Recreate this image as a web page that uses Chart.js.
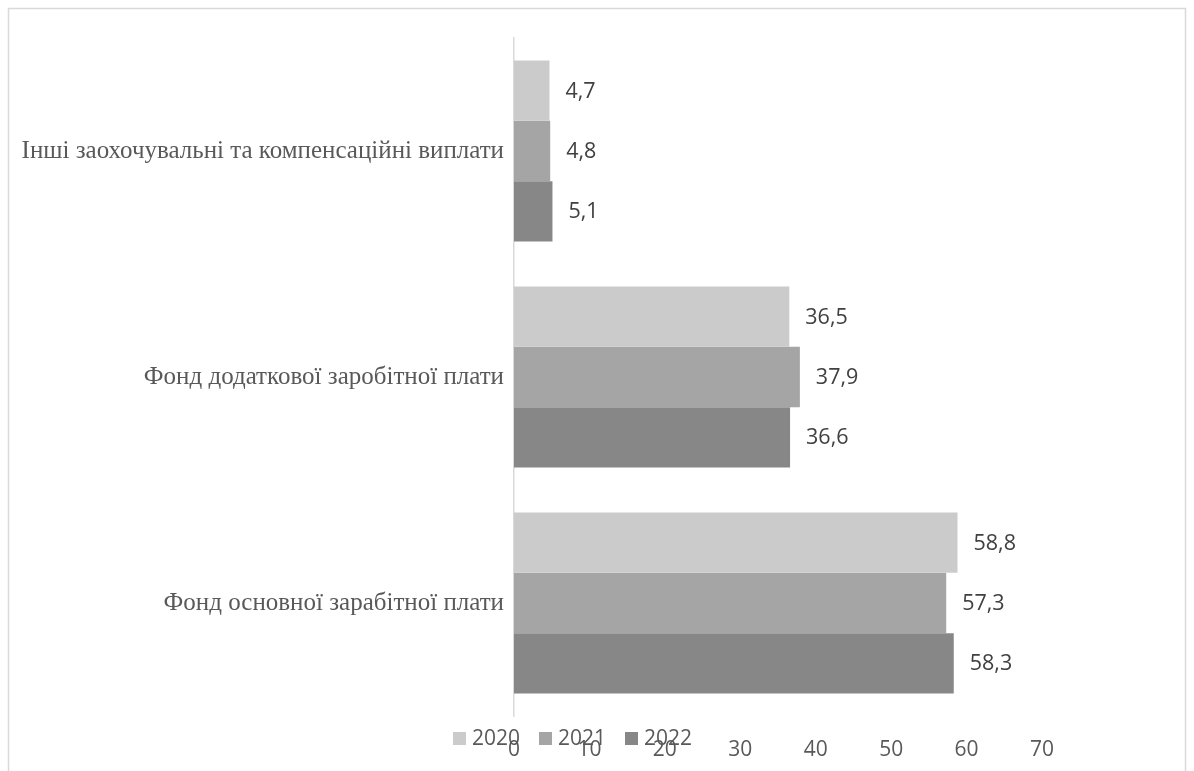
<!DOCTYPE html>
<html>
<head>
<meta charset="utf-8">
<title>Фонд оплати праці</title>
<script src="https://cdn.jsdelivr.net/npm/chart.js@4.4.0/dist/chart.umd.min.js"></script>
<style>
  html, body { margin: 0; padding: 0; background: #fff; }
  canvas { display: block; }
</style>
</head>
<body>
<canvas id="chart" width="1194" height="771"></canvas>
<script>
// Дані
const categories = [
  'Інші заохочувальні та компенсаційні виплати',
  'Фонд додаткової заробітної плати',
  'Фонд основної зарабітної плати'
];
const years = ['2020', '2021', '2022'];
const values2020 = [4.7, 36.5, 58.8];
const values2021 = [4.8, 37.9, 57.3];
const values2022 = [5.1, 36.6, 58.3];
const xMin = 0;
const xMax = 70;
const xStep = 10;

const colors = ['#cbcbcb', '#a5a5a5', '#878787'];
const sansFont = "'Open Sans', 'Liberation Sans', sans-serif";
const serifFont = "'Liberation Serif', 'DejaVu Serif', serif";

// Рамка навколо діаграми
const frame = {
  id: 'frame',
  beforeDraw(chart) {
    const ctx = chart.ctx;
    ctx.save();
    ctx.strokeStyle = '#d9d9d9';
    ctx.lineWidth = 1.5;
    ctx.strokeRect(8.5, 8.5, chart.width - 17, chart.height + 20);
    ctx.restore();
  }
};

// Підписи значень праворуч від стовпців
const valueLabels = {
  id: 'valueLabels',
  afterDatasetsDraw(chart) {
    const ctx = chart.ctx;
    ctx.save();
    ctx.font = '21.5px ' + sansFont;
    ctx.fillStyle = '#404040';
    ctx.textAlign = 'left';
    ctx.textBaseline = 'middle';
    chart.data.datasets.forEach((ds, i) => {
      chart.getDatasetMeta(i).data.forEach((bar, j) => {
        const txt = ds.data[j].toFixed(1).replace('.', ',');
        ctx.fillText(txt, bar.x + 16, bar.y + 1);
      });
    });
    ctx.restore();
  }
};

// Легенда внизу, поверх підписів осі
const bottomLegend = {
  id: 'bottomLegend',
  afterDraw(chart) {
    const ctx = chart.ctx;
    const y = 739;
    let x = 453;
    ctx.save();
    ctx.font = '21px ' + sansFont;
    ctx.textAlign = 'left';
    ctx.textBaseline = 'middle';
    chart.data.datasets.forEach(ds => {
      ctx.fillStyle = ds.backgroundColor;
      ctx.fillRect(x, y - 7, 13, 13);
      ctx.fillStyle = '#595959';
      ctx.fillText(ds.label, x + 19, y);
      x += 86;
    });
    ctx.restore();
  }
};

new Chart(document.getElementById('chart'), {
  type: 'bar',
  data: {
    labels: categories,
    datasets: [
      { label: years[0], data: values2020, backgroundColor: colors[0] },
      { label: years[1], data: values2021, backgroundColor: colors[1] },
      { label: years[2], data: values2022, backgroundColor: colors[2] }
    ]
  },
  options: {
    indexAxis: 'y',
    responsive: false,
    animation: false,
    categoryPercentage: 0.8,
    barPercentage: 1.0,
    layout: { padding: { top: 38, right: 152, left: 0, bottom: 0 } },
    plugins: {
      legend: { display: false },
      tooltip: { enabled: false }
    },
    scales: {
      x: {
        min: xMin,
        max: xMax,
        grid: { display: false, drawTicks: false },
        border: { display: false },
        ticks: {
          stepSize: xStep,
          padding: 21,
          color: '#595959',
          font: { family: sansFont, size: 21 }
        },
        afterFit(scale) { scale.height = 55; }
      },
      y: {
        grid: { display: false, drawTicks: false },
        border: { display: true, color: '#d9d9d9', width: 1.5 },
        ticks: {
          padding: 10,
          color: '#595959',
          font: { family: serifFont, size: 25 }
        },
        afterFit(scale) { scale.width = 514; }
      }
    }
  },
  plugins: [frame, valueLabels, bottomLegend]
});
</script>
</body>
</html>
